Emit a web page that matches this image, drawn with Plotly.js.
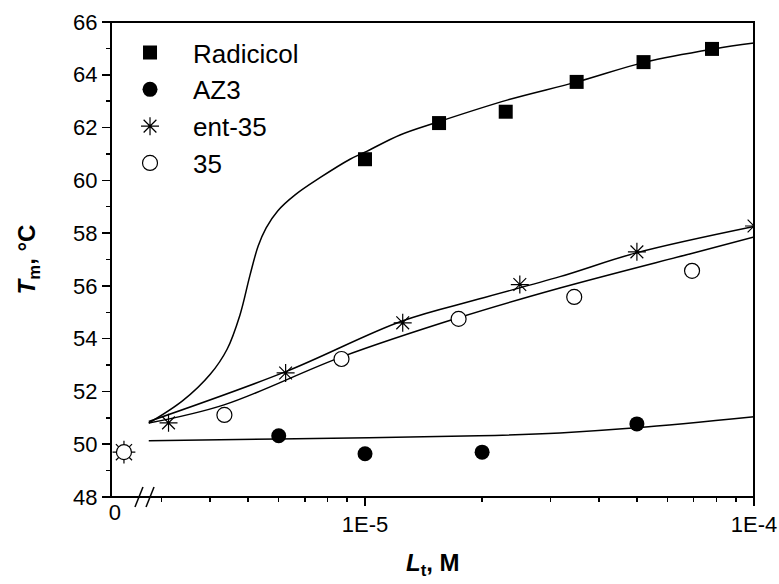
<!DOCTYPE html>
<html>
<head>
<meta charset="utf-8">
<script src="https://cdn.plot.ly/plotly-3.0.1.min.js"></script>
<style>html,body{margin:0;padding:0;background:#fff;}#chart{width:779px;height:584px;}</style>
</head>
<body>
<div id="chart"></div>
<script>
// ---- data ----
// measured points (L in M, Tm in °C)
const L_radicicol = [1.0e-5, 1.55e-5, 2.3e-5, 3.5e-5, 5.2e-5, 7.8e-5];
const T_radicicol = [60.8, 62.17, 62.6, 63.73, 64.48, 64.98];
const L_az3 = [6.0e-6, 1.0e-5, 2.0e-5, 5.0e-5];
const T_az3 = [50.32, 49.64, 49.7, 50.77];
const L_ent35 = [3.125e-6, 6.25e-6, 1.25e-5, 2.5e-5, 5.0e-5, 1.0e-4];
const T_ent35 = [50.81, 52.70, 54.60, 56.05, 57.29, 58.27];
const L_35 = [4.35e-6, 8.7e-6, 1.74e-5, 3.45e-5, 6.93e-5];
const T_35 = [51.11, 53.23, 54.75, 55.58, 56.57];
// ligand-free protein (L = 0)
const L_zero = [0];
const T_zero_ent35 = [49.7];
const T_zero_35 = [49.7];

// fitted curves
const Lfit_radicicol = [2.78e-6, 3.40e-6, 4.00e-6, 4.42e-6, 4.77e-6, 5.06e-6, 5.31e-6, 5.57e-6, 5.97e-6, 6.61e-6, 7.66e-6, 9.15e-6, 1.01e-5, 1.23e-5, 1.53e-5, 2.33e-5, 3.51e-5, 5.25e-5, 7.89e-5, 1.0e-4];
const Tfit_radicicol = [50.8, 51.65, 52.65, 53.6, 54.9, 56.4, 57.5, 58.2, 58.85, 59.45, 60.1, 60.8, 61.1, 61.72, 62.2, 63.05, 63.73, 64.48, 64.98, 65.2];
const Lfit_ent35 = [2.78e-6, 6.23e-6, 1.245e-5, 1.96e-5, 3.17e-5, 4.98e-5, 1.0e-4];
const Tfit_ent35 = [50.86, 52.74, 54.67, 55.5, 56.35, 57.25, 58.25];
const Lfit_35 = [2.78e-6, 4.34e-6, 8.68e-6, 1.745e-5, 3.17e-5, 6.95e-5, 1.0e-4];
const Tfit_35 = [50.8, 51.49, 53.3, 54.8, 55.92, 57.24, 57.85];
const Lfit_az3 = [2.78e-6, 5.97e-6, 1.96e-5, 3.17e-5, 4.98e-5, 1.0e-4];
const Tfit_az3 = [50.13, 50.2, 50.32, 50.43, 50.62, 51.04];

// axis ticks
const xTickVals = [1e-5, 1e-4];
const xTickText = ['1E-5', '1E-4'];
const xMinorTicks = [3e-6, 4e-6, 5e-6, 6e-6, 7e-6, 8e-6, 9e-6, 2e-5, 3e-5, 4e-5, 5e-5, 6e-5, 7e-5, 8e-5, 9e-5];
const zeroTickVals = [0];
const zeroTickText = ['0'];

const FONT = 'Liberation Sans, Arial, sans-serif';
const fitLine = {color: '#000', width: 1.5, shape: 'spline', smoothing: 1};

const traces = [
  {x: Lfit_radicicol, y: Tfit_radicicol, xaxis: 'x2', yaxis: 'y', mode: 'lines', line: fitLine, showlegend: false, hoverinfo: 'skip'},
  {x: Lfit_ent35, y: Tfit_ent35, xaxis: 'x2', yaxis: 'y', mode: 'lines', line: fitLine, showlegend: false, hoverinfo: 'skip'},
  {x: Lfit_35, y: Tfit_35, xaxis: 'x2', yaxis: 'y', mode: 'lines', line: fitLine, showlegend: false, hoverinfo: 'skip'},
  {x: Lfit_az3, y: Tfit_az3, xaxis: 'x2', yaxis: 'y', mode: 'lines', line: fitLine, showlegend: false, hoverinfo: 'skip'},
  {x: L_zero, y: T_zero_ent35, xaxis: 'x', yaxis: 'y', mode: 'markers', showlegend: false, cliponaxis: false,
   marker: {symbol: 'asterisk-open', size: 19, color: '#000', line: {color: '#000', width: 1.2}}},
  {x: L_zero, y: T_zero_35, xaxis: 'x', yaxis: 'y', mode: 'markers', showlegend: false, cliponaxis: false,
   marker: {symbol: 'circle', size: 15, color: '#fff', line: {color: '#000', width: 1.2}}},
  {name: 'Radicicol', x: L_radicicol, y: T_radicicol, xaxis: 'x2', yaxis: 'y', mode: 'markers',
   marker: {symbol: 'square', size: 14, color: '#000', line: {width: 0}}},
  {name: 'AZ3', x: L_az3, y: T_az3, xaxis: 'x2', yaxis: 'y', mode: 'markers',
   marker: {symbol: 'circle', size: 15, color: '#000', line: {width: 0}}},
  {name: 'ent-35', x: L_ent35, y: T_ent35, xaxis: 'x2', yaxis: 'y', mode: 'markers', cliponaxis: true,
   marker: {symbol: 'asterisk-open', size: 15, color: '#000', line: {color: '#000', width: 1.2}}},
  {name: '35', x: L_35, y: T_35, xaxis: 'x2', yaxis: 'y', mode: 'markers',
   marker: {symbol: 'circle', size: 15, color: '#fff', line: {color: '#000', width: 1.2}}}
];

const layout = {
  width: 779, height: 584,
  margin: {l: 111, r: 25, t: 22, b: 87},
  paper_bgcolor: '#fff', plot_bgcolor: '#fff',
  font: {family: FONT, color: '#000', size: 22},
  showlegend: true,
  legend: {x: -0.0062, y: 0.985, xanchor: 'left', yanchor: 'top', font: {family: FONT, size: 26, color: '#000'},
           bgcolor: 'rgba(0,0,0,0)', itemwidth: 76, traceorder: 'normal'},
  xaxis: {domain: [0, 0.045], range: [-0.448, 0.552], tickmode: 'array', tickvals: zeroTickVals, ticktext: zeroTickText,
          ticks: '', showline: false, zeroline: false, showgrid: false, fixedrange: true, ticklabelshift: -9,
          tickfont: {family: FONT, size: 22, color: '#000'}, anchor: 'y'},
  xaxis2: {type: 'log', domain: [0.0529, 1], range: [-5.5656, -4], tickmode: 'array', tickvals: xTickVals, ticktext: xTickText,
           ticks: 'outside', ticklen: 8, tickwidth: 1.5, tickcolor: '#000',
           minor: {tickmode: 'array', tickvals: xMinorTicks, ticks: 'outside', ticklen: 4, tickwidth: 1.5, tickcolor: '#000', showgrid: false},
           showline: false, zeroline: false, showgrid: false, anchor: 'y',
           tickfont: {family: FONT, size: 22, color: '#000'}},
  yaxis: {range: [48, 66], tick0: 48, dtick: 2, ticks: 'outside', ticklen: 8, tickwidth: 1.5, tickcolor: '#000',
          minor: {dtick: 1, ticks: 'outside', ticklen: 4, tickwidth: 1.5, tickcolor: '#000', showgrid: false},
          showline: false, zeroline: false, showgrid: false,
          tickfont: {family: FONT, size: 22, color: '#000'},
          title: {text: '<b><i>T</i><sub>m</sub>, °C</b>', font: {family: FONT, size: 24, color: '#000'}, standoff: 30}},
  shapes: [
    {type: 'rect', xref: 'paper', yref: 'paper', x0: 0, x1: 1, y0: 0, y1: 1, line: {color: '#000', width: 2}, layer: 'above'},
    {type: 'line', xref: 'paper', yref: 'paper', xsizemode: 'pixel', ysizemode: 'pixel', xanchor: 0.0435, yanchor: 0,
     x0: -4, x1: 4, y0: -10, y1: 10, line: {color: '#000', width: 1.5}},
    {type: 'line', xref: 'paper', yref: 'paper', xsizemode: 'pixel', ysizemode: 'pixel', xanchor: 0.0607, yanchor: 0,
     x0: -4, x1: 4, y0: -10, y1: 10, line: {color: '#000', width: 1.5}}
  ],
  annotations: [
    {text: '<b><i>L</i><sub>t</sub>, M</b>', xref: 'paper', yref: 'paper', x: 0.5, y: 0, xanchor: 'center', yanchor: 'top',
     yshift: -50, showarrow: false, font: {family: FONT, size: 24, color: '#000'}}
  ]
};

Plotly.newPlot('chart', traces, layout, {staticPlot: true, displayModeBar: false});
</script>
</body>
</html>
